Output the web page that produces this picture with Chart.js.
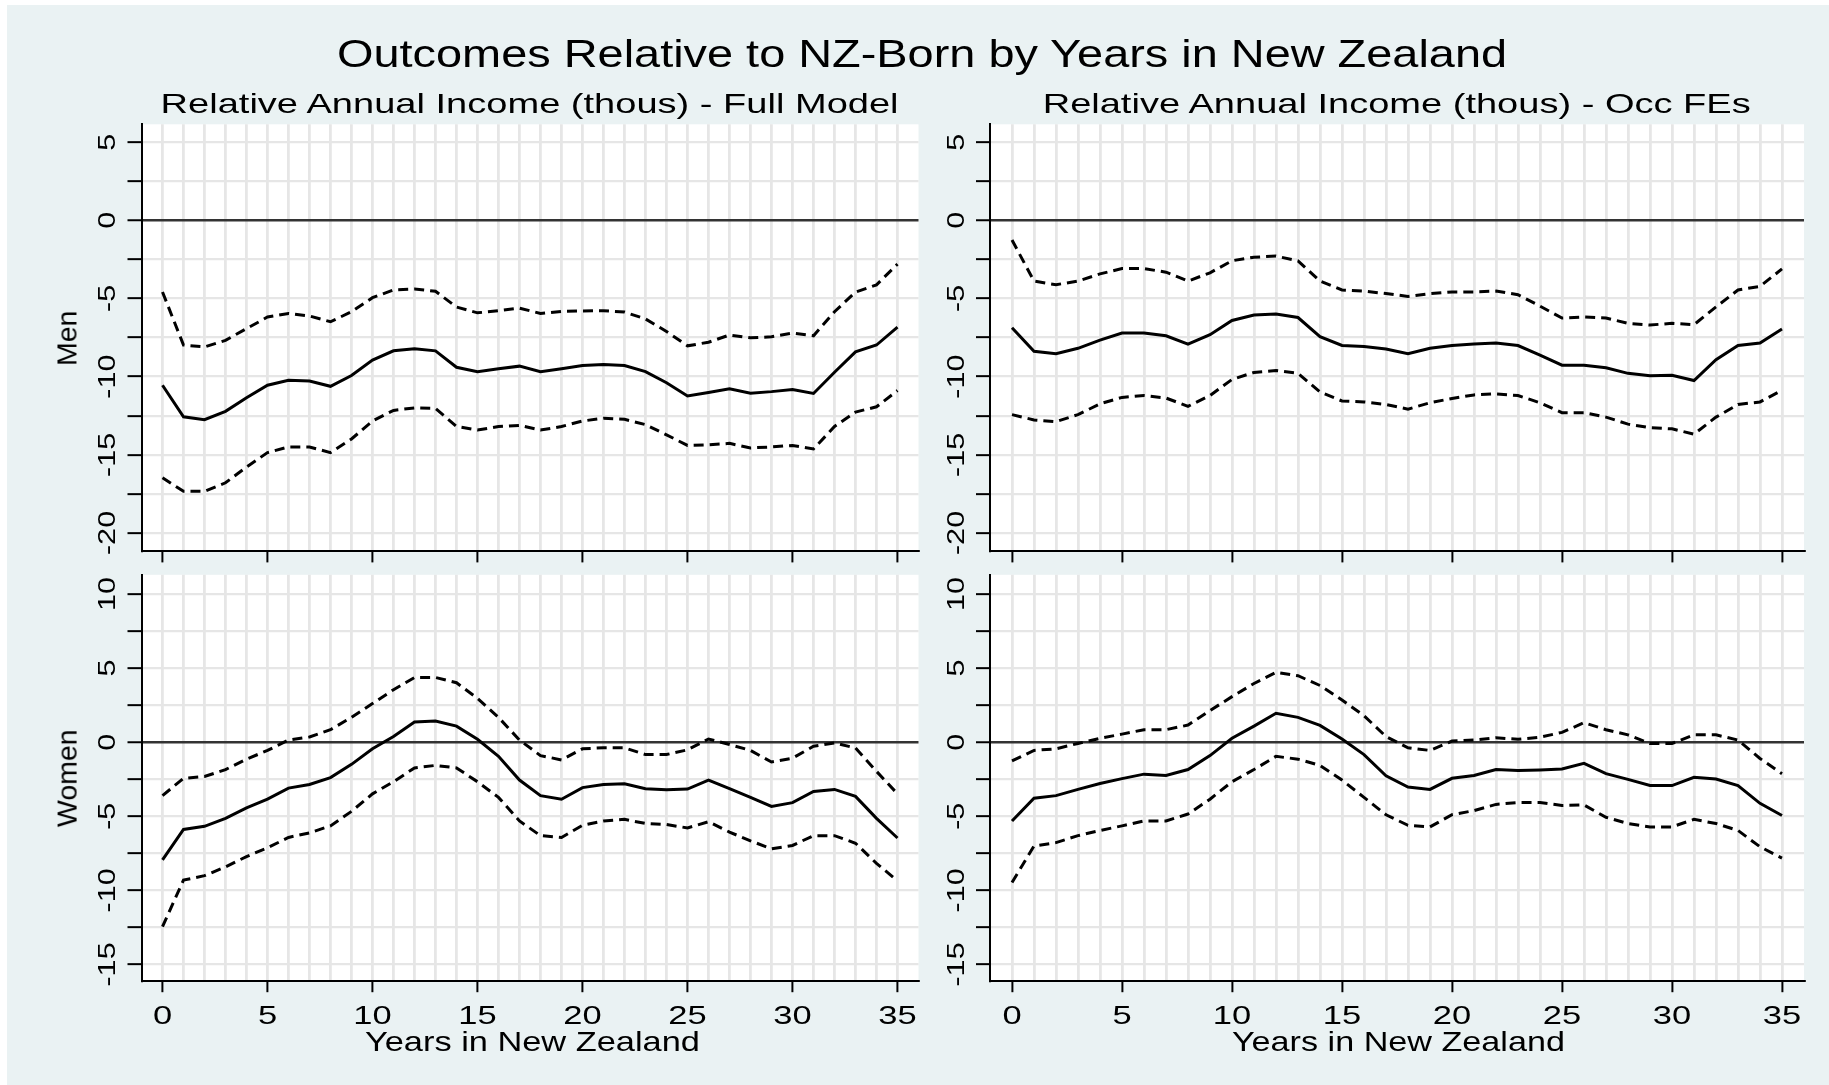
<!DOCTYPE html>
<html>
<head>
<meta charset="utf-8">
<script src="https://cdn.jsdelivr.net/npm/chart.js@4.4.1/dist/chart.umd.min.js"></script>
<style>
html,body{margin:0;padding:0;background:#fff;}
#page{position:relative;width:1829px;height:1085px;overflow:hidden;background:#fff;font-family:"Liberation Sans",Arial,Helvetica,sans-serif;}
#bg{position:absolute;left:7px;top:5px;right:0;bottom:0;background:#EAF2F3;}
canvas{position:absolute;left:0;top:0;}
.t{position:absolute;white-space:nowrap;line-height:1;color:#000;transform-origin:50% 50%;}
</style>
</head>
<body>
<div id="page">
<div id="bg"></div>
<canvas id="c0" width="1829" height="1085"></canvas>
<canvas id="c1" width="1829" height="1085"></canvas>
<canvas id="c2" width="1829" height="1085"></canvas>
<canvas id="c3" width="1829" height="1085"></canvas>
</div>
<script>
// ---------------- data ----------------
const years = [0,1,2,3,4,5,6,7,8,9,10,11,12,13,14,15,16,17,18,19,20,21,22,23,24,25,26,27,28,29,30,31,32,33,34,35];

const menFullCoef  = [-10.55,-12.57,-12.75,-12.22,-11.35,-10.55,-10.23,-10.28,-10.62,-9.93,-8.94,-8.35,-8.21,-8.35,-9.40,-9.68,-9.50,-9.33,-9.68,-9.50,-9.29,-9.22,-9.29,-9.68,-10.39,-11.24,-11.01,-10.78,-11.06,-10.96,-10.83,-11.08,-9.72,-8.42,-7.98,-6.83];
const menFullUpper = [-4.59,-7.98,-8.10,-7.68,-6.93,-6.19,-5.96,-6.12,-6.49,-5.85,-4.95,-4.45,-4.40,-4.54,-5.55,-5.92,-5.78,-5.62,-5.96,-5.83,-5.80,-5.78,-5.87,-6.31,-7.11,-8.03,-7.80,-7.34,-7.52,-7.45,-7.22,-7.39,-5.85,-4.59,-4.13,-2.80];
const menFullLower = [-16.47,-17.34,-17.34,-16.79,-15.78,-14.86,-14.50,-14.50,-14.86,-13.99,-12.84,-12.16,-12.00,-12.04,-13.19,-13.42,-13.19,-13.12,-13.42,-13.19,-12.84,-12.66,-12.73,-13.07,-13.72,-14.40,-14.36,-14.27,-14.56,-14.50,-14.40,-14.63,-13.19,-12.27,-11.93,-10.89];

const menOccCoef  = [-6.87,-8.38,-8.54,-8.19,-7.67,-7.21,-7.21,-7.39,-7.92,-7.32,-6.41,-6.06,-6.00,-6.22,-7.44,-8.01,-8.08,-8.24,-8.54,-8.19,-8.01,-7.92,-7.85,-8.01,-8.63,-9.27,-9.27,-9.43,-9.79,-9.95,-9.91,-10.25,-8.92,-8.01,-7.85,-6.96];
const menOccUpper = [-1.26,-3.89,-4.12,-3.89,-3.43,-3.09,-3.09,-3.32,-3.89,-3.36,-2.59,-2.36,-2.29,-2.59,-3.89,-4.46,-4.53,-4.69,-4.87,-4.69,-4.58,-4.58,-4.53,-4.76,-5.49,-6.25,-6.18,-6.25,-6.59,-6.70,-6.59,-6.68,-5.54,-4.46,-4.23,-3.11];
const menOccLower = [-12.43,-12.77,-12.88,-12.43,-11.74,-11.33,-11.21,-11.37,-11.90,-11.21,-10.18,-9.73,-9.61,-9.79,-10.98,-11.56,-11.62,-11.78,-12.08,-11.67,-11.40,-11.17,-11.10,-11.21,-11.67,-12.31,-12.31,-12.59,-13.04,-13.27,-13.34,-13.68,-12.59,-11.78,-11.62,-10.87];

const womenFullCoef  = [-7.95,-5.89,-5.68,-5.14,-4.43,-3.85,-3.10,-2.86,-2.39,-1.50,-0.45,0.38,1.36,1.43,1.08,0.19,-0.96,-2.56,-3.61,-3.85,-3.07,-2.86,-2.81,-3.14,-3.21,-3.17,-2.56,-3.14,-3.73,-4.34,-4.08,-3.33,-3.19,-3.66,-5.14,-6.47];
const womenFullUpper = [-3.61,-2.44,-2.32,-1.85,-1.15,-0.56,0.14,0.35,0.84,1.67,2.60,3.54,4.36,4.36,4.01,2.95,1.67,0.14,-0.91,-1.20,-0.45,-0.38,-0.38,-0.84,-0.84,-0.52,0.21,-0.16,-0.56,-1.34,-1.08,-0.28,-0.05,-0.40,-1.97,-3.49];
const womenFullLower = [-12.45,-9.31,-9.01,-8.42,-7.72,-7.13,-6.43,-6.12,-5.65,-4.67,-3.49,-2.67,-1.74,-1.57,-1.74,-2.67,-3.73,-5.32,-6.31,-6.43,-5.61,-5.32,-5.21,-5.49,-5.56,-5.79,-5.37,-6.07,-6.66,-7.20,-6.97,-6.31,-6.31,-6.82,-8.18,-9.36];

const womenOccCoef  = [-5.32,-3.78,-3.61,-3.19,-2.79,-2.46,-2.16,-2.25,-1.85,-0.91,0.26,1.08,1.95,1.67,1.13,0.21,-0.84,-2.27,-3.03,-3.19,-2.44,-2.25,-1.85,-1.92,-1.88,-1.81,-1.43,-2.13,-2.51,-2.93,-2.93,-2.37,-2.49,-2.93,-4.13,-4.95];
const womenOccUpper = [-1.27,-0.56,-0.45,-0.09,0.26,0.54,0.84,0.84,1.15,2.13,3.07,3.96,4.71,4.48,3.82,2.84,1.78,0.38,-0.38,-0.56,0.07,0.14,0.30,0.19,0.33,0.66,1.31,0.84,0.49,-0.09,-0.09,0.49,0.49,0.14,-1.10,-2.13];
const womenOccLower = [-9.47,-7.01,-6.78,-6.31,-5.96,-5.65,-5.32,-5.32,-4.85,-3.85,-2.67,-1.85,-0.96,-1.15,-1.57,-2.56,-3.73,-4.90,-5.61,-5.72,-4.90,-4.62,-4.20,-4.08,-4.08,-4.27,-4.24,-5.07,-5.49,-5.72,-5.72,-5.21,-5.49,-5.96,-7.06,-7.83];

const xTickValues = [0,5,10,15,20,25,30,35];
const xTickLabels = ['0','5','10','15','20','25','30','35'];
const menTickValues = [-20,-15,-10,-5,0,5];
const menTickLabels = ['-20','-15','-10','-5','0','5'];
const womenTickValues = [-15,-10,-5,0,5,10];
const womenTickLabels = ['-15','-10','-5','0','5','10'];
const menGridValues = [-20,-17.5,-15,-12.5,-10,-7.5,-5,-2.5,0,2.5,5];
const womenGridValues = [-15,-12.5,-10,-7.5,-5,-2.5,0,2.5,5,7.5,10];

const mainTitle = 'Outcomes Relative to NZ-Born by Years in New Zealand';
const subTitles = ['Relative Annual Income (thous) - Full Model', 'Relative Annual Income (thous) - Occ FEs'];
const rowTitles = ['Men', 'Women'];
const xTitle = 'Years in New Zealand';

// ---------------- layout ----------------
const PAGE_W = 1829, PAGE_H = 1085;
const FONT = '"Liberation Sans", Arial, Helvetica, sans-serif';
const COL = [{l:141.5, r:918.5}, {l:990, r:1804}];
const ROW = [{t:124.3, b:551.4, min:-21.18, max:6.14}, {t:574.8, b:981.2, min:-16.13, max:11.29}];

const panels = [
  {id:'c0', col:0, row:0, s:[menFullCoef, menFullUpper, menFullLower], grid:menGridValues, tv:menTickValues, tl:menTickLabels, showX:false},
  {id:'c1', col:1, row:0, s:[menOccCoef, menOccUpper, menOccLower], grid:menGridValues, tv:menTickValues, tl:menTickLabels, showX:false},
  {id:'c2', col:0, row:1, s:[womenFullCoef, womenFullUpper, womenFullLower], grid:womenGridValues, tv:womenTickValues, tl:womenTickLabels, showX:true},
  {id:'c3', col:1, row:1, s:[womenOccCoef, womenOccUpper, womenOccLower], grid:womenGridValues, tv:womenTickValues, tl:womenTickLabels, showX:true}
];

function makePlugin(p) {
  return {
    id: 'panelDeco',
    beforeDraw(chart) {
      const a = chart.chartArea, c = chart.ctx;
      c.save();
      c.fillStyle = '#ffffff';
      c.fillRect(a.left, a.top, a.right - a.left, a.bottom - a.top);
      c.restore();
    },
    afterDraw(chart) {
      const c = chart.ctx, xs = chart.scales.x, ys = chart.scales.y;
      const a = chart.chartArea;
      c.save();
      c.fillStyle = '#000';
      // rotated y tick labels
      c.font = '24.5px ' + FONT;
      c.textAlign = 'center';
      c.textBaseline = 'alphabetic';
      p.tv.forEach((v, i) => {
        const y = ys.getPixelForValue(v);
        c.save();
        c.translate(a.left - 26.5, y);
        c.rotate(-Math.PI / 2);
        c.scale(1.25, 1);
        c.fillText(p.tl[i], 0, 0);
        c.restore();
      });
      if (p.showX) {
        c.font = '25px ' + FONT;
        xTickValues.forEach((v, i) => {
          const x = xs.getPixelForValue(v);
          c.save();
          c.translate(x, 1023.5);
          c.scale(1.38, 1);
          c.fillText(xTickLabels[i], 0, 0);
          c.restore();
        });
      }
      c.restore();
    }
  };
}

function makeChart(p) {
  const area = {l: COL[p.col].l, r: COL[p.col].r, t: ROW[p.row].t, b: ROW[p.row].b};
  const yW = 20, xH = 20;
  const pts = vals => years.map((x, i) => ({x: x, y: vals[i]}));
  const ds = (vals, dashed) => ({
    data: pts(vals), borderColor: '#000', backgroundColor: '#000',
    borderWidth: 3, borderDash: dashed ? [10, 6] : [],
    pointRadius: 0, fill: false, tension: 0
  });
  return new Chart(document.getElementById(p.id).getContext('2d'), {
    type: 'line',
    data: {datasets: [ds(p.s[0], false), ds(p.s[1], true), ds(p.s[2], true)]},
    options: {
      responsive: false, animation: false, events: [],
      layout: {padding: {left: area.l - yW, right: PAGE_W - area.r, top: area.t, bottom: PAGE_H - area.b - xH}},
      plugins: {legend: {display: false}, title: {display: false}, tooltip: {enabled: false}},
      scales: {
        x: {
          type: 'linear', min: -1, max: 36,
          afterBuildTicks: s => { s.ticks = years.map(v => ({value: v})); },
          afterFit: s => { s.height = xH; },
          ticks: {display: false},
          border: {display: true, color: '#000', width: 2},
          grid: {
            color: '#e6e6e6', lineWidth: 2.8, drawTicks: true, tickLength: 11, tickWidth: 2,
            tickColor: c => (c.tick && c.tick.value % 5 === 0) ? '#000' : 'rgba(0,0,0,0)'
          }
        },
        y: {
          type: 'linear', min: ROW[p.row].min, max: ROW[p.row].max,
          afterBuildTicks: s => { s.ticks = p.grid.map(v => ({value: v})); },
          afterFit: s => { s.width = yW; },
          ticks: {display: false},
          border: {display: true, color: '#000', width: 2},
          grid: {
            color: c => (c.tick && c.tick.value === 0) ? '#333333' : '#e6e6e6',
            lineWidth: c => (c.tick && c.tick.value === 0) ? 2.5 : 2.3,
            drawTicks: true, tickLength: 14, tickWidth: 2, tickColor: '#000'
          }
        }
      }
    },
    plugins: [makePlugin(p)]
  });
}

panels.forEach(makeChart);

// ---------------- text ----------------
const page = document.getElementById('page');
function addText(str, o) {
  const d = document.createElement('div');
  d.className = 't';
  d.textContent = str;
  d.style.fontSize = o.size + 'px';
  page.appendChild(d);
  const r = d.getBoundingClientRect();
  const w = r.width, h = r.height;
  const k = o.width ? o.width / w : 1;
  d.style.left = (o.cx - w / 2) + 'px';
  if (o.rotate) {
    d.style.top = (o.cy - h / 2) + 'px';
    d.style.transform = 'rotate(-90deg) scaleX(' + k + ')';
  } else {
    d.style.top = o.top + 'px';
    d.style.transform = 'scaleX(' + k + ')';
  }
}
addText(mainTitle, {cx: 922.4, top: 35.3, size: 38.4, width: 1170});
addText(subTitles[0], {cx: 530, top: 89.6, size: 28, width: 738});
addText(subTitles[1], {cx: 1397, top: 89.6, size: 28, width: 708});
addText(xTitle, {cx: 532, top: 1028, size: 28, width: 335});
addText(xTitle, {cx: 1398, top: 1028, size: 28, width: 333});
addText(rowTitles[0], {cx: 66.4, cy: (ROW[0].t + ROW[0].b) / 2, size: 28.5, rotate: true});
addText(rowTitles[1], {cx: 66.4, cy: (ROW[1].t + ROW[1].b) / 2, size: 28.5, rotate: true});
</script>
</body>
</html>
